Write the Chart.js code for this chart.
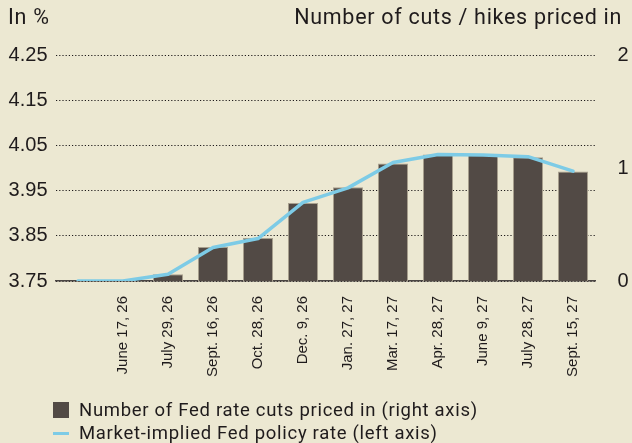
<!DOCTYPE html>
<html>
<head>
<meta charset="utf-8">
<script src="https://cdn.jsdelivr.net/npm/chart.js@4/dist/chart.umd.min.js"></script>
<style>
  html, body { margin: 0; padding: 0; background: #ece8d2; }
  #wrap { position: relative; width: 632px; height: 443px; background: #ece8d2; overflow: hidden; }
  #c { position: absolute; left: 0; top: 0; }
  .ttl { position: absolute; top: 5px; font-family: Roboto, sans-serif; font-size: 21.5px; line-height: 24px; color: #1f1b1c; white-space: nowrap; letter-spacing: 0.7px; }
  #legend { position: absolute; left: 53px; top: 399px; font-family: Roboto, sans-serif; font-size: 18.5px; color: #1f1b1c; letter-spacing: 0.7px; }
  .li { position: relative; height: 23px; line-height: 23px; padding-left: 26px; white-space: nowrap; }
  .sw-bar { position: absolute; left: 0; top: 3px; width: 16px; height: 16px; background: #524a45; }
  .sw-line { position: absolute; left: 0; top: 10px; width: 16px; height: 3px; background: #7dcbe6; }
</style>
</head>
<body>
<div id="wrap">
  <canvas id="c" width="632" height="443"></canvas>
  <div class="ttl" style="left:8px;">In %</div>
  <div class="ttl" style="right:10px;">Number of cuts / hikes priced in</div>
  <div id="legend">
    <div class="li"><span class="sw-bar"></span>Number of Fed rate cuts priced in (right axis)</div>
    <div class="li"><span class="sw-line"></span>Market-implied Fed policy rate (left axis)</div>
  </div>
</div>
<script>
const categories = ['', 'June 17, 26', 'July 29, 26', 'Sept. 16, 26', 'Oct. 28, 26', 'Dec. 9, 26', 'Jan. 27, 27', 'Mar. 17, 27', 'Apr. 28, 27', 'June 9, 27', 'July 28, 27', 'Sept. 15, 27'];
const cutsPricedIn = [0, 0, 0.06, 0.30, 0.38, 0.69, 0.83, 1.04, 1.12, 1.115, 1.095, 0.97];
const policyRate = [3.75, 3.75, 3.765, 3.824, 3.844, 3.924, 3.956, 4.012, 4.030, 4.029, 4.025, 3.993];
const leftTicks = [3.75, 3.85, 3.95, 4.05, 4.15, 4.25];
const rightTicks = [0, 1, 2];

const TXT = '#1f1b1c';
new Chart(document.getElementById('c'), {
  data: {
    labels: categories,
    datasets: [
      {
        type: 'line',
        label: 'Market-implied Fed policy rate (left axis)',
        data: policyRate,
        yAxisID: 'yL',
        borderColor: '#7dcbe6',
        borderWidth: 3.5,
        pointRadius: 0,
        tension: 0,
        borderCapStyle: 'round',
        borderJoinStyle: 'round',
        order: 0
      },
      {
        type: 'bar',
        label: 'Number of Fed rate cuts priced in (right axis)',
        data: cutsPricedIn,
        yAxisID: 'yR',
        backgroundColor: '#524a45',
        borderColor: '#a8a08e',
        borderWidth: 1,
        categoryPercentage: 1,
        barPercentage: 0.667,
        order: 1
      }
    ]
  },
  options: {
    responsive: false,
    animation: false,
    layout: { padding: { top: 55, left: 0, right: 0, bottom: 0 } },
    plugins: { legend: { display: false }, tooltip: { enabled: false } },
    scales: {
      x: {
        offset: true,
        grid: { display: false, drawTicks: false },
        border: { display: true, color: '#4a4543', width: 1.5 },
        ticks: {
          color: TXT, font: { family: '"Liberation Sans", Arial, sans-serif', size: 15 },
          minRotation: 90, maxRotation: 90, padding: 15, autoSkip: false
        },
        afterFit: s => { s.height = 443 - 281; }
      },
      yL: {
        position: 'left',
        min: 3.75, max: 4.25,
        afterBuildTicks: s => { s.ticks = leftTicks.map(v => ({ value: v })); },
        grid: { color: '#1f1b1c', lineWidth: 1, drawTicks: false },
        border: { display: false, dash: [1.2, 2] },
        ticks: {
          color: TXT, font: { family: '"Liberation Sans", Arial, sans-serif', size: 20 },
          padding: 8, callback: v => v.toFixed(2)
        },
        afterFit: s => { s.width = 55.5; }
      },
      yR: {
        position: 'right',
        min: 0, max: 2,
        afterBuildTicks: s => { s.ticks = rightTicks.map(v => ({ value: v })); },
        grid: { display: false, drawTicks: false },
        border: { display: false },
        ticks: {
          color: TXT, font: { family: '"Liberation Sans", Arial, sans-serif', size: 20 },
          padding: 22, callback: v => String(v)
        },
        afterFit: s => { s.width = 632 - 595.5; }
      }
    }
  }
});
</script>
</body>
</html>
